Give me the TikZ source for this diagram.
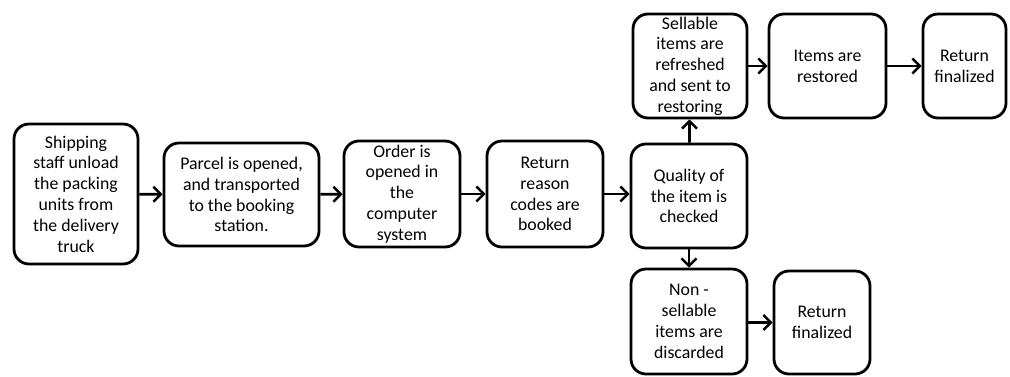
\documentclass[tikz,border=0pt]{standalone}
\usepackage{fontspec}
\setmainfont{Carlito}
\usetikzlibrary{arrows.meta}
\begin{document}
\begin{tikzpicture}[x=1pt,y=-1pt,
  stepbox/.style={draw=black, line width=2.8pt, rounded corners=15pt,
    align=center, inner sep=0pt,
    font=\fontsize{17.8}{20.8}\selectfont},
  flow/.style={draw=black, line width=2.8pt,
    -{Straight Barb[length=7.5pt,width=15pt,line width=2.4pt]}}]
\useasboundingbox (0,0) rectangle (1010,376);
% main line of the return process
\node[stepbox, minimum width=124pt, minimum height=140pt] (unload) at (76,194)
  {Shipping\\staff unload\\the packing\\units from\\the delivery\\truck};
\node[stepbox, minimum width=155pt, minimum height=103pt] (parcel) at (241.5,194.5)
  {Parcel is opened,\\and transported\\to the booking\\station.};
\node[stepbox, minimum width=116pt, minimum height=106pt] (order) at (402,194)
  {Order is\\opened in\\the\\computer\\system};
\node[stepbox, minimum width=116pt, minimum height=106pt] (codes) at (545,194)
  {Return\\reason\\codes are\\booked};
\node[stepbox, minimum width=116pt, minimum height=104pt] (quality) at (689,196)
  {Quality of\\the item is\\checked};
% sellable branch
\node[stepbox, minimum width=114pt, minimum height=104pt] (sellable) at (690,66)
  {Sellable\\items are\\refreshed\\and sent to\\restoring};
\node[stepbox, minimum width=117pt, minimum height=104pt] (restored) at (827.5,66)
  {Items are\\restored};
\node[stepbox, minimum width=83pt, minimum height=104pt] (finaltop) at (964.5,66)
  {Return\\finalized};
% non-sellable branch
\node[stepbox, minimum width=116pt, minimum height=105pt] (discard) at (689,321.5)
  {Non -\\sellable\\items are\\discarded};
\node[stepbox, minimum width=96pt, minimum height=103pt] (finalbot) at (822,322.5)
  {Return\\finalized};
% connectors
\draw[flow] (unload) -- (parcel);
\draw[flow] (parcel) -- (order);
\draw[flow] (order) -- (codes);
\draw[flow] (codes.east) -- (quality.west |- codes.east);
\draw[flow] (quality) -- (sellable);
\draw[flow] (quality) -- (discard);
\draw[flow] (sellable) -- (restored);
\draw[flow] (restored) -- (finaltop);
\draw[flow] (discard.east |- finalbot.west) -- (finalbot.west);
\end{tikzpicture}
\end{document}
